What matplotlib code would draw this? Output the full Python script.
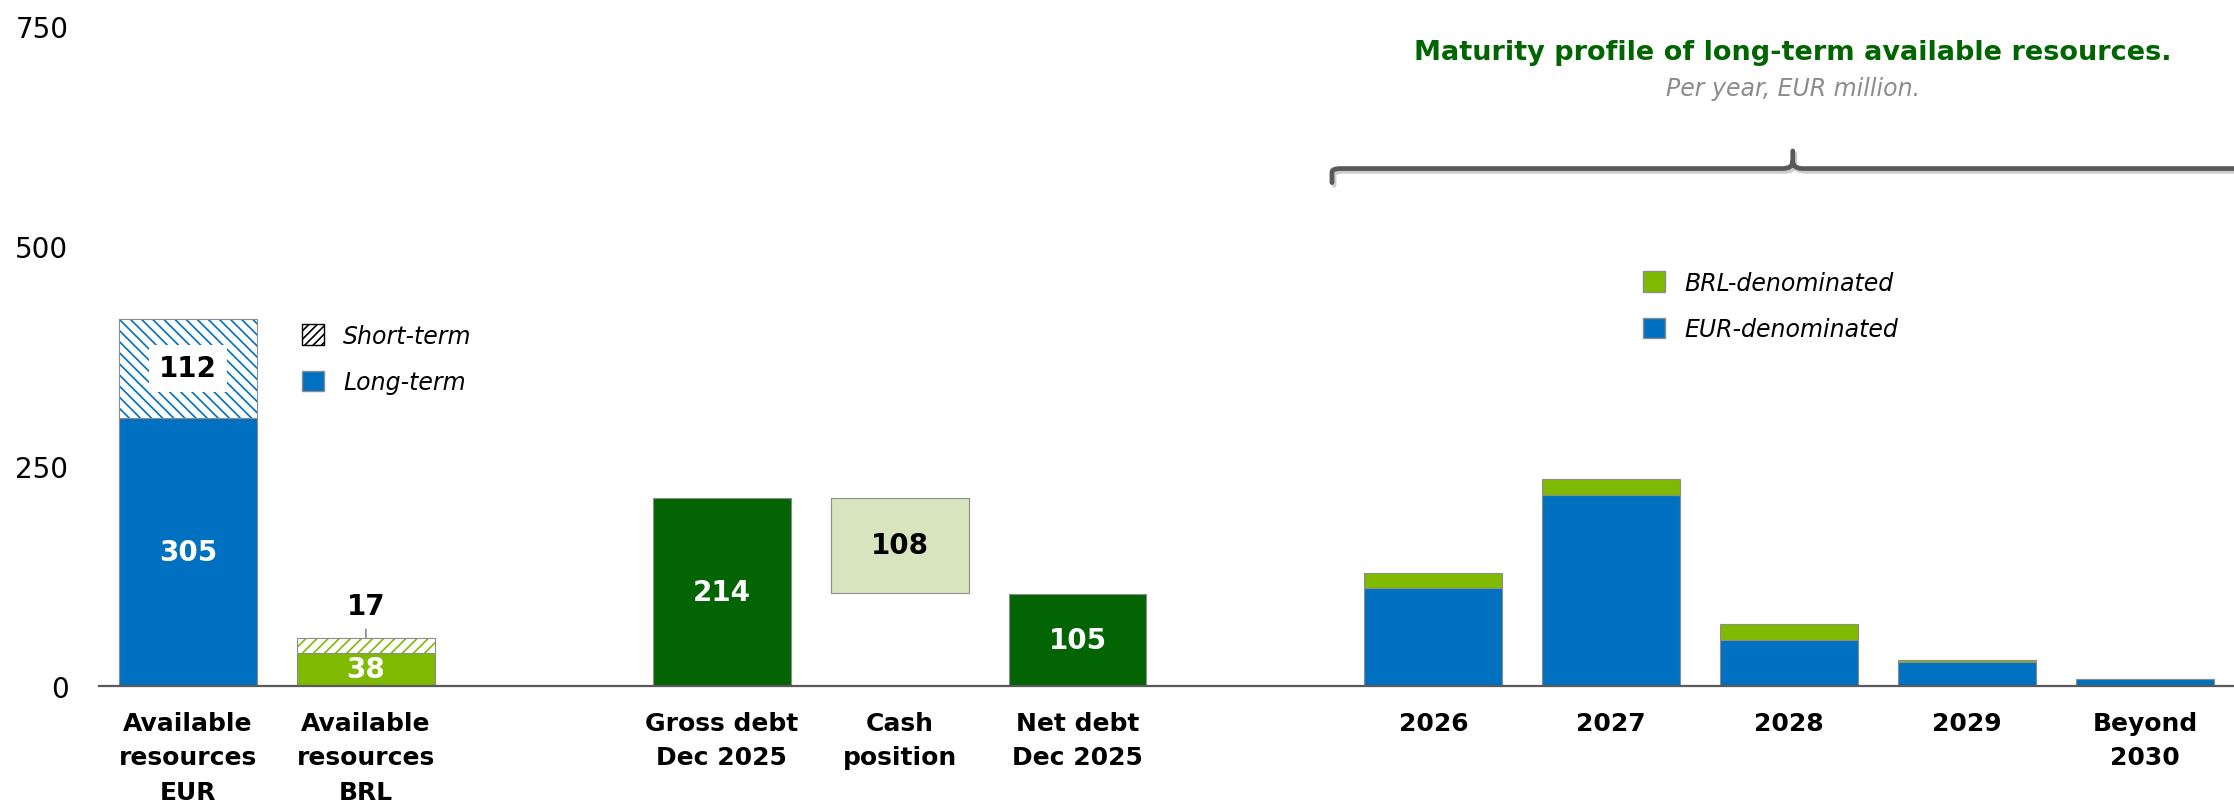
import matplotlib
matplotlib.use("Agg")
import matplotlib.pyplot as plt
import matplotlib.patheffects as pe
from matplotlib.patches import Patch, PathPatch
from matplotlib.path import Path
import numpy as np

# data (EUR million)
res_labels = ["Available\nresources\nEUR", "Available\nresources\nBRL"]
res_long = [305, 38]
res_short = [112, 17]

debt_labels = ["Gross debt\nDec 2025", "Cash\nposition", "Net debt\nDec 2025"]
debt_values = [214, 108, 105]

year_labels = ["2026", "2027", "2028", "2029", "Beyond\n2030"]
eur_denominated = [111, 217, 52, 27, 8]
brl_denominated = [17, 18, 18, 3, 0]

y_ticks = [0, 250, 500, 750]

# colours
BLUE = "#0070C0"
GREEN = "#80BA00"
DARK_GREEN = "#036403"
CASH_GREEN = "#D8E4BE"
EDGE = "#8C8C8C"
AXIS = "#595959"

plt.rcParams["font.family"] = ["DejaVu Sans"]
plt.rcParams["hatch.linewidth"] = 1.2

# slot layout: gaps between the three groups
res_x = np.arange(len(res_long))
debt_x = np.arange(len(debt_values)) + 3
year_x = np.arange(len(year_labels)) + 7
W = 0.775
VAL_FS = 20

fig = plt.figure(figsize=(22.34, 8.04), dpi=100)
ax = fig.add_axes([99 / 2234, 1 - 687 / 804, 1 - 99 / 2234, (687 - 27) / 804])


def bar(x, h, bottom=0, **kw):
    return ax.bar(x, h, bottom=bottom, width=W, linewidth=0.8, edgecolor=EDGE, **kw)


# available resources
long_cols = [BLUE, GREEN]
for i in range(len(res_long)):
    bar(res_x[i], res_long[i], color=long_cols[i])
    ax.bar(res_x[i], res_short[i], bottom=res_long[i], width=W, color="white",
           edgecolor=long_cols[i], hatch="\\\\\\" if i == 0 else "///", linewidth=0)
    bar(res_x[i], res_short[i], bottom=res_long[i], fill=False)

ax.text(res_x[0], res_long[0] / 2, str(res_long[0]), ha="center", va="center",
        color="white", fontsize=VAL_FS, fontweight="bold")
ax.text(res_x[0], res_long[0] + res_short[0] / 2, str(res_short[0]), ha="center", va="center",
        color="black", fontsize=VAL_FS, fontweight="bold",
        bbox=dict(facecolor="white", edgecolor="none", pad=7))
ax.text(res_x[1], res_long[1] / 2, str(res_long[1]), ha="center", va="center",
        color="white", fontsize=VAL_FS, fontweight="bold")
ax.annotate(str(res_short[1]), xy=(res_x[1], res_long[1] + res_short[1]),
            xytext=(0, 13), textcoords="offset points", ha="center", va="bottom",
            fontsize=VAL_FS, fontweight="bold",
            arrowprops=dict(arrowstyle="-", color=EDGE, lw=1.2, shrinkA=5, shrinkB=0))

# debt bridge
gross, cash, net = debt_values
bar(debt_x[0], gross, color=DARK_GREEN)
bar(debt_x[1], cash, bottom=gross - cash, color=CASH_GREEN)
bar(debt_x[2], net, color=DARK_GREEN)
ax.text(debt_x[0], gross / 2, str(gross), ha="center", va="center", color="white",
        fontsize=VAL_FS, fontweight="bold")
ax.text(debt_x[1], gross - cash / 2, str(cash), ha="center", va="center", color="black",
        fontsize=VAL_FS, fontweight="bold")
ax.text(debt_x[2], net / 2, str(net), ha="center", va="center", color="white",
        fontsize=VAL_FS, fontweight="bold")

# maturity profile
bar(year_x, eur_denominated, color=BLUE)
bar(year_x, brl_denominated, bottom=eur_denominated, color=GREEN)

# brace over the maturity bars
yb = 588
xl, xc, xr = year_x[0] - 0.57, year_x[2] + 0.02, year_x[-1] + 1.0
verts = [(xl, yb - 16), (xl, yb - 4), (xl, yb), (xl + 0.05, yb), (xc - 0.06, yb),
         (xc, yb), (xc, yb + 8), (xc, yb + 20),
         (xc, yb + 8), (xc, yb), (xc + 0.06, yb), (xr, yb)]
codes = [Path.MOVETO, Path.LINETO, Path.CURVE3, Path.CURVE3, Path.LINETO,
         Path.CURVE3, Path.CURVE3, Path.LINETO,
         Path.MOVETO, Path.CURVE3, Path.CURVE3, Path.LINETO]
brace = PathPatch(Path(verts, codes), fill=False, edgecolor=AXIS, lw=3.4,
                  capstyle="round", joinstyle="round",
                  path_effects=[pe.SimpleLineShadow(offset=(1.5, -2), alpha=0.2), pe.Normal()])
ax.add_patch(brace)

# axes styling
ax.set_xlim(-0.5, 11.5)
ax.set_ylim(0, 750)
for s in ["top", "right", "left"]:
    ax.spines[s].set_visible(False)
ax.spines["bottom"].set_color(AXIS)
ax.spines["bottom"].set_linewidth(1.6)

ax.set_yticks(y_ticks)
ax.set_yticklabels([str(t) for t in y_ticks], fontsize=20)
ax.tick_params(axis="y", length=0, pad=22)

ax.set_xticks(np.concatenate([res_x, debt_x, year_x]))
ax.set_xticklabels(res_labels + debt_labels + year_labels, fontsize=18,
                   fontweight="bold", linespacing=1.55)
ax.tick_params(axis="x", length=0, pad=18)

# legends
leg_kw = dict(loc="center left", bbox_transform=fig.transFigure, frameon=False,
              borderpad=0, borderaxespad=0, handlelength=0.95, handleheight=0.95,
              handletextpad=0.8, labelspacing=0.95,
              prop=dict(style="italic", size=17))
leg1 = ax.legend(handles=[Patch(facecolor="white", edgecolor="black", hatch="////", label="Short-term"),
                          Patch(facecolor=BLUE, edgecolor=EDGE, label="Long-term")],
                 bbox_to_anchor=(302 / 2234, 1 - 360 / 804), **leg_kw)
ax.add_artist(leg1)
ax.legend(handles=[Patch(facecolor=GREEN, edgecolor=EDGE, label="BRL-denominated"),
                   Patch(facecolor=BLUE, edgecolor=EDGE, label="EUR-denominated")],
          bbox_to_anchor=(1643 / 2234, 1 - 307 / 804), **leg_kw)

fig.text(1793 / 2234, 1 - 53 / 804, "Maturity profile of long-term available resources.",
         ha="center", va="center", fontsize=19.5, fontweight="bold", color="#006400")
fig.text(1793 / 2234, 1 - 89 / 804, "Per year, EUR million.", ha="center", va="center",
         fontsize=17, style="italic", color="#8C8C8C")

fig.savefig("out.png", dpi=100)
